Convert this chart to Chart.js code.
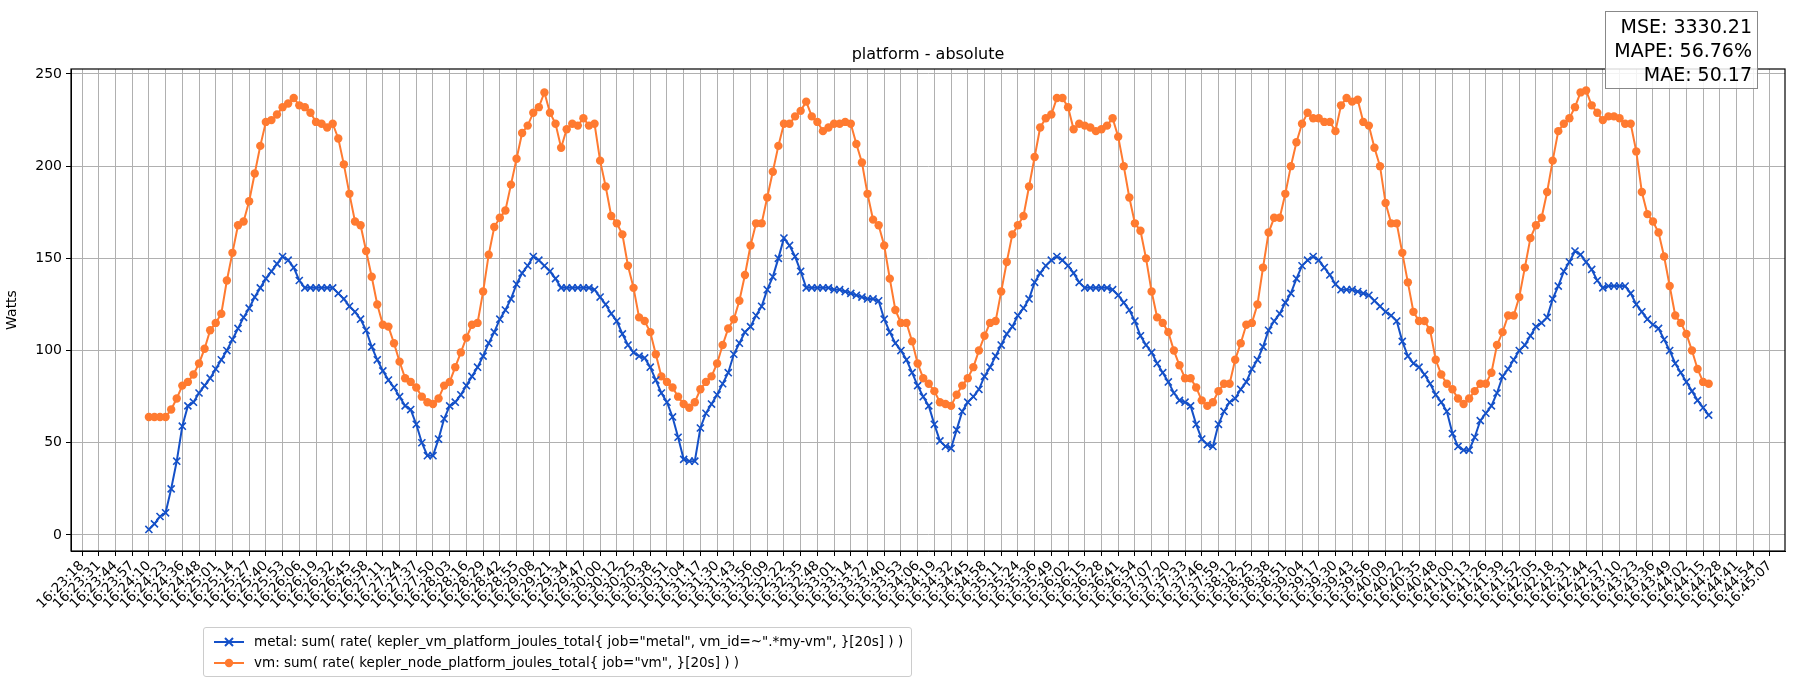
<!DOCTYPE html>
<html>
<head>
<meta charset="utf-8">
<script src="https://cdn.jsdelivr.net/npm/chart.js@4"></script>
<style>
  body { margin:0; background:#fff; font-family:"DejaVu Sans", sans-serif; }
  #wrap { position:relative; width:1800px; height:700px; }
  #title { position:absolute; left:71px; width:1714px; top:44px; text-align:center; font-size:16px; color:#000; }
  #metrics { position:absolute; left:1605px; top:11px; width:141px; padding:2px 5px; border:1px solid #888; background:rgba(255,255,255,0.85);
             text-align:right; font-size:19px; line-height:24px; color:#000; }
  #legend { position:absolute; left:203px; top:627px; padding:3px 8px; border:1px solid #ccc; border-radius:3px; font-size:13.5px; line-height:21px; }
  #legend .row { display:flex; align-items:center; gap:8px; }
  #legend canvas { display:block; }
</style>
</head>
<body>
<div id="wrap">
  <canvas id="chart" width="1800" height="700"></canvas>
  <div id="title">platform - absolute</div>
  <div id="metrics">MSE: 3330.21<br>MAPE: 56.76%<br>MAE: 50.17</div>
  <div id="legend"></div>
</div>
<script>
// tick labels (one per grid line)
const tickLabels = [
 '16:23:18','16:23:31','16:23:44','16:23:57','16:24:10','16:24:23','16:24:36','16:24:48','16:25:01','16:25:14',
 '16:25:27','16:25:40','16:25:53','16:26:06','16:26:19','16:26:32','16:26:45','16:26:58','16:27:11','16:27:24',
 '16:27:37','16:27:50','16:28:03','16:28:16','16:28:29','16:28:42','16:28:55','16:29:08','16:29:21','16:29:34',
 '16:29:47','16:30:00','16:30:12','16:30:25','16:30:38','16:30:51','16:31:04','16:31:17','16:31:30','16:31:43',
 '16:31:56','16:32:09','16:32:22','16:32:35','16:32:48','16:33:01','16:33:14','16:33:27','16:33:40','16:33:53',
 '16:34:06','16:34:19','16:34:32','16:34:45','16:34:58','16:35:11','16:35:24','16:35:36','16:35:49','16:36:02',
 '16:36:15','16:36:28','16:36:41','16:36:54','16:37:07','16:37:20','16:37:33','16:37:46','16:37:59','16:38:12',
 '16:38:25','16:38:38','16:38:51','16:39:04','16:39:17','16:39:30','16:39:43','16:39:56','16:40:09','16:40:22',
 '16:40:35','16:40:48','16:41:00','16:41:13','16:41:26','16:41:39','16:41:52','16:42:05','16:42:18','16:42:31',
 '16:42:44','16:42:57','16:43:10','16:43:23','16:43:36','16:43:49','16:44:02','16:44:15','16:44:28','16:44:41',
 '16:44:54','16:45:07'
];

// samples start at tick 4 (16:24:10), three samples per tick
const firstTick = 4;
const samplesPerTick = 3;

const metalLabel = 'metal: sum( rate( kepler_vm_platform_joules_total{ job="metal", vm_id=~".*my-vm", }[20s] ) )';
const vmLabel = 'vm: sum( rate( kepler_node_platform_joules_total{ job="vm", }[20s] ) )';

const metal = [
 3,6,10, 12,25,40, 59,70,72, 77,81,85, 90,95,100, 106,112,118, 123,129,134, 139,143,147, 151,149,145, 138,134,134,
 134,134,134, 134,131,128, 124,121,117, 111,102,95, 89,84,80, 75,70,68, 60,50,43, 43,52,63, 70,72,76, 81,86,91,
 97,104,110, 117,122,128, 136,142,146, 151,149,146, 143,139,134, 134,134,134, 134,134,133, 129,125,120, 116,109,103, 99,97,96,
 91,84,77, 72,64,53, 41,40,40, 58,66,71, 76,82,88, 98,104,110, 113,119,124, 133,140,150, 161,157,151, 143,134,134,
 134,134,134, 133,133,132, 131,130,129, 128,128,127, 117,110,104, 100,95,88, 81,75,70, 60,51,48, 47,57,67, 72,75,79,
 86,91,97, 103,109,113, 119,123,128, 137,142,146, 149,151,149, 146,142,137, 134,134,134, 134,134,133, 130,126,122, 116,108,103,
 99,93,88, 83,77,73, 72,70,60, 52,49,48, 60,67,72, 74,79,83, 90,95,102, 111,116,120, 126,131,139, 146,149,151,
 149,145,141, 136,133,133, 133,132,131, 130,127,124, 121,119,116, 105,97,93, 91,87,82, 76,72,67, 55,48,46, 46,53,62,
 66,70,77, 86,90,95, 100,103,108, 113,115,118, 128,135,143, 148,154,152, 148,144,138, 134,135,135, 135,135,131, 125,121,117,
 114,112,106, 100,93,88, 83,78,73, 69,65
];

const vm = [
 64,64,64, 64,68,74, 81,83,87, 93,101,111, 115,120,138, 153,168,170, 181,196,211, 224,225,228, 232,234,237, 233,232,229,
 224,223,221, 223,215,201, 185,170,168, 154,140,125, 114,113,104, 94,85,83, 80,75,72, 71,74,81, 83,91,99, 107,114,115,
 132,152,167, 172,176,190, 204,218,222, 229,232,240, 229,223,210, 220,223,222, 226,222,223, 203,189,173, 169,163,146, 134,118,116,
 110,98,86, 83,80,75, 71,69,72, 79,83,86, 93,103,112, 117,127,141, 157,169,169, 183,197,211, 223,223,227, 230,235,227,
 224,219,221, 223,223,224, 223,212,202, 185,171,168, 157,139,122, 115,115,105, 93,85,82, 78,72,71, 70,76,81, 85,91,100,
 108,115,116, 132,148,163, 168,173,189, 205,221,226, 228,237,237, 232,220,223, 222,221,219, 220,222,226, 216,200,183, 169,165,150,
 132,118,115, 110,100,92, 85,85,80, 73,70,72, 78,82,82, 95,104,114, 115,125,145, 164,172,172, 185,200,213, 223,229,226,
 226,224,224, 219,233,237, 235,236,224, 222,210,200, 180,169,169, 153,137,121, 116,116,111, 95,87,82, 79,74,71, 74,78,82,
 82,88,103, 110,119,119, 129,145,161, 168,172,186, 203,219,223, 226,232,240, 241,233,229, 225,227,227, 226,223,223, 208,186,174,
 170,164,151, 135,119,115, 109,100,90, 83,82
];

const metalColor = '#1450c8';
const vmColor = '#ff7a30';

const toPoints = arr => arr.map((v, i) => ({ x: firstTick + i / samplesPerTick, y: v }));

const frame = {
  id: 'frame',
  afterDraw(chart) {
    const { ctx, chartArea: a } = chart;
    ctx.save();
    ctx.strokeStyle = '#000';
    ctx.lineWidth = 1.2;
    ctx.strokeRect(a.left, a.top, a.right - a.left, a.bottom - a.top);
    ctx.restore();
  }
};

new Chart(document.getElementById('chart'), {
  type: 'line',
  data: {
    datasets: [
      { label: metalLabel, data: toPoints(metal), borderColor: metalColor, backgroundColor: metalColor,
        borderWidth: 2, pointStyle: 'crossRot', pointRadius: 5, pointBorderWidth: 1.6, tension: 0 },
      { label: vmLabel, data: toPoints(vm), borderColor: vmColor, backgroundColor: vmColor,
        borderWidth: 2, pointStyle: 'circle', pointRadius: 4.2, pointBorderWidth: 0, tension: 0 }
    ]
  },
  options: {
    responsive: false,
    animation: false,
    layout: { padding: { top: 69, right: 15, left: 0, bottom: 0 } },
    plugins: { legend: { display: false }, tooltip: { enabled: false } },
    scales: {
      x: {
        type: 'linear', min: -0.66, max: 101.9,
        afterBuildTicks: s => { s.ticks = tickLabels.map((_, i) => ({ value: i })); },
        afterFit: s => { s.height = 149; },
        ticks: {
          autoSkip: false, minRotation: 45, maxRotation: 45, color: '#000', padding: 2,
          font: { family: 'DejaVu Sans', size: 13.5 },
          callback: (v, i) => tickLabels[i]
        },
        grid: { color: '#b0b0b0', lineWidth: 1, tickColor: '#000', tickLength: 5 },
        border: { color: '#000' }
      },
      y: {
        min: -8.7, max: 252.7,
        afterBuildTicks: s => { s.ticks = [0, 50, 100, 150, 200, 250].map(v => ({ value: v })); },
        afterFit: s => { s.width = 71; },
        title: { display: true, text: 'Watts', color: '#000', font: { family: 'DejaVu Sans', size: 14 }, padding: 4 },
        ticks: { color: '#000', font: { family: 'DejaVu Sans', size: 14 }, padding: 4 },
        grid: { color: '#b0b0b0', lineWidth: 1, tickColor: '#000', tickLength: 5 },
        border: { color: '#000' }
      }
    }
  },
  plugins: [frame]
});

// legend swatches
const legend = document.getElementById('legend');
[[metalLabel, metalColor, 'x'], [vmLabel, vmColor, 'o']].forEach(([text, color, mark]) => {
  const row = document.createElement('div');
  row.className = 'row';
  const c = document.createElement('canvas');
  c.width = 34; c.height = 14;
  const g = c.getContext('2d');
  g.strokeStyle = color; g.fillStyle = color; g.lineWidth = 2;
  g.beginPath(); g.moveTo(2, 7); g.lineTo(32, 7); g.stroke();
  if (mark === 'x') {
    g.beginPath(); g.moveTo(13, 3); g.lineTo(21, 11); g.moveTo(21, 3); g.lineTo(13, 11); g.stroke();
  } else {
    g.beginPath(); g.arc(17, 7, 4.2, 0, Math.PI * 2); g.fill();
  }
  const span = document.createElement('span');
  span.textContent = text;
  row.appendChild(c); row.appendChild(span);
  legend.appendChild(row);
});
</script>
</body>
</html>
